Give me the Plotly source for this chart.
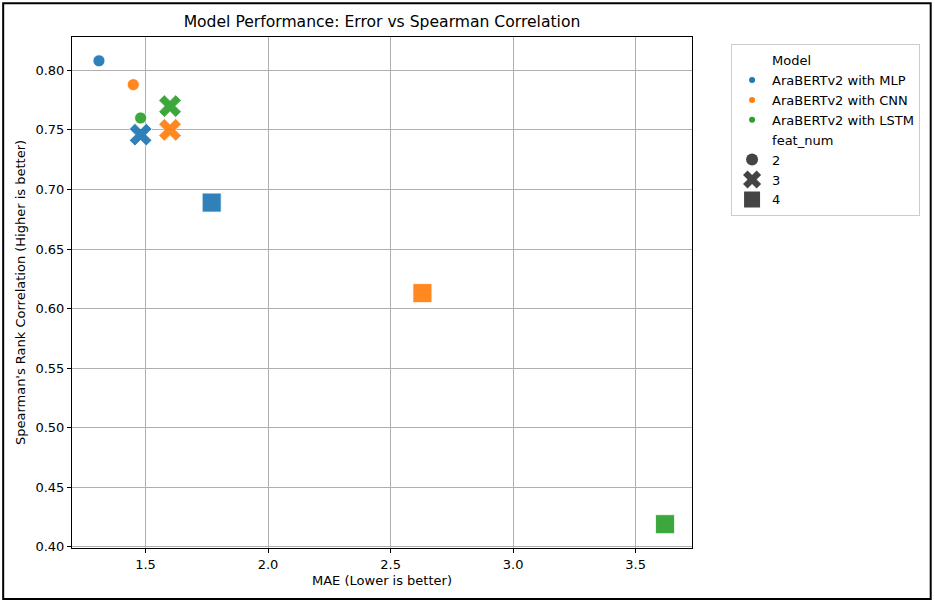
import plotly.graph_objects as go

# ---- data ----
models = ["AraBERTv2 with MLP", "AraBERTv2 with CNN", "AraBERTv2 with LSTM"]
feat_nums = [2, 3, 4]
# MAE per model for feat_num 2, 3, 4
mae_mlp = [1.31, 1.48, 1.77]
mae_cnn = [1.45, 1.60, 2.63]
mae_lstm = [1.48, 1.60, 3.62]
# Spearman per model for feat_num 2, 3, 4
sp_mlp = [0.808, 0.746, 0.689]
sp_cnn = [0.788, 0.750, 0.613]
sp_lstm = [0.760, 0.770, 0.419]

mae = [mae_mlp, mae_cnn, mae_lstm]
spear = [sp_mlp, sp_cnn, sp_lstm]

colors = ["#1f77b4", "#ff7f0e", "#2ca02c"]
symbols = {2: "circle", 3: "x", 4: "square"}
sizes = {2: 12, 3: 20, 4: 19}

fig = go.Figure()

for mi, m in enumerate(models):
    for fi, f in enumerate(feat_nums):
        fig.add_trace(go.Scatter(
            x=[mae[mi][fi]], y=[spear[mi][fi]], mode="markers",
            marker=dict(symbol=symbols[f], size=sizes[f], color=colors[mi],
                        opacity=0.92, line=dict(width=0.8, color="white")),
            showlegend=False, hoverinfo="x+y",
        ))

blank = dict(size=1, color="rgba(0,0,0,0)", line=dict(width=0))
# legend: Model section
fig.add_trace(go.Scatter(x=[None], y=[None], mode="markers", name="Model", marker=blank))
for mi, m in enumerate(models):
    fig.add_trace(go.Scatter(x=[None], y=[None], mode="markers", name=m,
                             marker=dict(symbol="circle", size=6, color=colors[mi])))
fig.add_trace(go.Scatter(x=[None], y=[None], mode="markers", name="feat_num", marker=blank))
for f in feat_nums:
    fig.add_trace(go.Scatter(x=[None], y=[None], mode="markers", name=str(f),
                             marker=dict(symbol=symbols[f], size=sizes[f], color="#444444")))

axis_common = dict(
    showgrid=True, gridcolor="#b0b0b0", gridwidth=1,
    showline=True, linecolor="black", linewidth=1, mirror=True,
    ticks="outside", ticklen=4, tickcolor="black",
    zeroline=False, tickfont=dict(size=13, color="black"),
)

fig.update_layout(
    width=935, height=604,
    margin=dict(l=72, r=243, t=37, b=56),
    paper_bgcolor="white", plot_bgcolor="white",
    font=dict(family="DejaVu Sans", size=13, color="black"),
    title=dict(text="Model Performance: Error vs Spearman Correlation",
               x=(72 + 692) / 2 / 935, xanchor="center", y=0.965, yanchor="middle",
               font=dict(size=15.6)),
    xaxis=dict(range=[1.2, 3.73], tickvals=[1.5, 2.0, 2.5, 3.0, 3.5],
               ticktext=["1.5", "2.0", "2.5", "3.0", "3.5"],
               title=dict(text="MAE (Lower is better)", font=dict(size=13), standoff=5),
               **axis_common),
    yaxis=dict(range=[0.399, 0.828],
               tickvals=[0.40, 0.45, 0.50, 0.55, 0.60, 0.65, 0.70, 0.75, 0.80],
               ticktext=["0.40", "0.45", "0.50", "0.55", "0.60", "0.65", "0.70", "0.75", "0.80"],
               title=dict(text="Spearman's Rank Correlation (Higher is better)", font=dict(size=13), standoff=6),
               **axis_common),
    legend=dict(x=1.063, y=0.986, xanchor="left", yanchor="top",
                bordercolor="#cccccc", borderwidth=1, bgcolor="white",
                font=dict(size=13), itemsizing="trace", tracegroupgap=0,
                traceorder="normal"),
    shapes=[dict(type="rect", xref="paper", yref="paper",
                 x0=-0.111, x1=1.385, y0=-0.1, y1=1.066,
                 line=dict(color="black", width=2), fillcolor="rgba(0,0,0,0)", layer="below")],
)

fig.write_html("out.html", config={"displayModeBar": False},
               post_script="document.body.style.margin='0';document.body.style.overflow='hidden';")
